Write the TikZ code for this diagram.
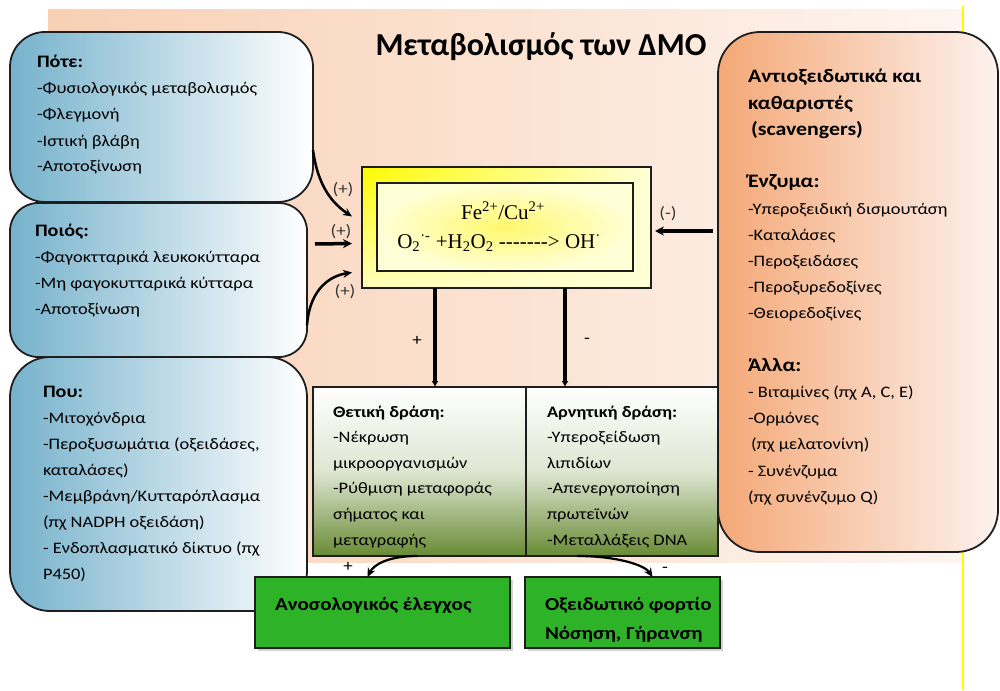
\documentclass[tikz,border=0pt]{standalone}
\usepackage{fontspec}
\setmainfont[FakeStretch=1.15]{Carlito}
\newfontfamily\titlefont{Carlito}
\newfontfamily\chemfont{Liberation Serif}
\usetikzlibrary{arrows.meta,shadows,shadings}
\newcommand\blk[2]{\parbox[t]{#1}{\raggedright #2}}
\newcommand\hdr[1]{{\fontsize{19}{26.2}\selectfont\bfseries #1}}
\newcommand\lhdr[1]{{\fontsize{17.5}{26}\selectfont\bfseries #1}}
\definecolor{peach}{RGB}{248,208,180}
\definecolor{peachlt}{RGB}{254,245,240}
\definecolor{bluel}{RGB}{118,178,204}
\definecolor{orangel}{RGB}{244,168,118}
\definecolor{orangeR}{RGB}{253,242,238}
\definecolor{olive}{RGB}{104,138,52}
\definecolor{oliveM}{RGB}{222,230,210}
\definecolor{grn}{RGB}{46,178,40}
\definecolor{edge}{RGB}{30,30,30}
\definecolor{lbl}{RGB}{55,55,55}
\definecolor{ylw}{RGB}{255,250,0}
\definecolor{ylwlt}{RGB}{255,255,215}
\definecolor{ylwll}{RGB}{255,255,190}
\definecolor{ylwc}{RGB}{255,248,110}
\begin{document}
\begin{tikzpicture}[x=1pt,y=-1pt,
  every node/.style={inner sep=0pt, outer sep=0pt},
  bluebox/.style={draw=edge, line width=1.8pt, left color=bluel, right color=white},
  orbox/.style={draw=edge, line width=1.8pt, left color=orangel, right color=orangeR},
  actbox/.style={draw=edge, line width=1.5pt, top color=white, bottom color=olive, middle color=oliveM},
  grnbox/.style={draw=edge, line width=1.5pt, fill=grn, drop shadow={opacity=0.35, shadow xshift=3pt, shadow yshift=-3pt}},
  body/.style={font=\fontsize{16}{26}\selectfont, anchor=base west},
  actbody/.style={font=\fontsize{16}{25.6}\selectfont, anchor=base west},
  gtxt/.style={font=\fontsize{18.3}{29}\selectfont\bfseries, anchor=base west},
  sign/.style={font=\fontsize{16.5}{18}\selectfont, text=lbl},
  arr/.style={line width=2.5pt, draw=black, -{Stealth[length=9pt,width=8pt]}},
  harr/.style={line width=3.5pt, draw=black, -{Stealth[length=9pt,width=9pt]}},
  darr/.style={line width=3.5pt, draw=black, -{Latex[length=6pt,width=7pt]}}
]
\useasboundingbox (0,0) rectangle (1000,690);
\fill[white] (0,0) rectangle (1000,690);
% background
\shade[left color=peach, right color=peachlt] (48,10) rectangle (963,562);
\draw[ylw, line width=2pt] (963,6) -- (963,690);

% left boxes
\node[bluebox, rounded corners=35pt, minimum width=303pt, minimum height=170pt] (when) at (161.5,117) {};
\node[bluebox, rounded corners=28pt, minimum width=297pt, minimum height=154pt] (who) at (158.5,280) {};
\node[bluebox, rounded corners=40pt, minimum width=297pt, minimum height=254pt] (where) at (158.5,484) {};

% right box
\node[orbox, rounded corners=42pt, minimum width=280pt, minimum height=520pt] (anti) at (858,292) {};

% central reaction box
\node[draw=edge, line width=1.8pt, upper left=ylw, upper right=ylwlt, lower left=ylwll, lower right=ylwlt, minimum width=289pt, minimum height=121pt] (outer) at (506.5,227.5) {};
\node[draw=edge, line width=1.8pt, inner color=ylwc, outer color=ylwlt, minimum width=256pt, minimum height=88pt] (inner) at (505,227) {};

% action boxes
\node[actbox, minimum width=213pt, minimum height=169pt] (pos) at (419.5,471.5) {};
\node[actbox, minimum width=192pt, minimum height=169pt] (neg) at (622,471.5) {};

% outcome boxes
\node[grnbox, minimum width=255pt, minimum height=71pt] (immune) at (382.5,612.5) {};
\node[grnbox, minimum width=195pt, minimum height=71pt] (oxid) at (622.5,612.5) {};

% title
\node[font=\titlefont\fontsize{32}{38}\selectfont\bfseries, anchor=base] (title) at (541,56) {Μεταβολισμός των ΔΜΟ};

% texts
\node[body] (whent) at (37,68) {\blk{272pt}{\lhdr{Πότε:}\\-Φυσιολογικός μεταβολισμός\\-Φλεγμονή\\-Ιστική βλάβη\\-Αποτοξίνωση}};
\node[body] (whot) at (35,236) {\blk{268pt}{\lhdr{Ποιός:}\\-Φαγοκτταρικά λευκοκύτταρα\\-Μη φαγοκυτταρικά κύτταρα\\-Αποτοξίνωση}};
\node[body] (wheret) at (43,397) {\blk{262pt}{\lhdr{Που:}\\-Μιτοχόνδρια\\-Περοξυσωμάτια (οξειδάσες,\\καταλάσες)\\-Μεμβράνη/Κυτταρόπλασμα\\(πχ NADPH οξειδάση)\\- Ενδοπλασματικό δίκτυο (πχ\\P450)}};
\node[body, font=\fontsize{16}{26.2}\selectfont] (antit) at (748,83) {\blk{245pt}{\hdr{Αντιοξειδωτικά και}\\\hdr{καθαριστές}\\\hspace*{3pt}\hdr{(scavengers)}\\[26.2pt]\hdr{Ένζυμα:}\\-Υπεροξειδική δισμουτάση\\-Καταλάσες\\-Περοξειδάσες\\-Περοξυρεδοξίνες\\-Θειορεδοξίνες\\[26.2pt]\hdr{Άλλα:}\\- Βιταμίνες (πχ A, C, E)\\-Ορμόνες\\\hspace*{3pt}(πχ μελατονίνη)\\- Συνένζυμα\\(πχ συνένζυμο Q)}};

\node[actbody] (post) at (333,417) {\blk{190pt}{\textbf{Θετική δράση:}\\-Νέκρωση\\μικροοργανισμών\\-Ρύθμιση μεταφοράς\\σήματος και\\μεταγραφής}};
\node[actbody] (negt) at (547,417) {\blk{170pt}{\textbf{Αρνητική δράση:}\\-Υπεροξείδωση\\λιπιδίων\\-Απενεργοποίηση\\πρωτεϊνών\\-Μεταλλάξεις DNA}};

\node[gtxt] (immt) at (275,610) {Ανοσολογικός έλεγχος};
\node[gtxt] (oxt) at (545,610) {\blk{178pt}{Οξειδωτικό φορτίο\\Νόσηση, Γήρανση}};

\node[font=\chemfont\fontsize{21}{24}\selectfont, anchor=base] (fe) at (503,219) {Fe\textsuperscript{2+}/Cu\textsuperscript{2+}};
\node[font=\chemfont\fontsize{21}{24}\selectfont, anchor=base] (rx) at (499,248) {O\textsubscript{2}\textsuperscript{·-} +H\textsubscript{2}O\textsubscript{2} -{}-{}-{}-{}-{}-{}->{} OH\textsuperscript{·}};

% connectors into reaction box
\draw[arr] ([yshift=-33pt]when.east) .. controls +(5,38) and +(-18,-12) .. ([xshift=-10pt,yshift=11pt]outer.west);
\draw[harr] ([xshift=8pt,yshift=36pt]who.east) -- ([xshift=-10pt,yshift=-16pt]outer.west);
\draw[arr] ([yshift=-45pt]who.east) .. controls +(3,-38) and +(-20,3) .. ([xshift=-10pt,yshift=-45pt]outer.west);
\draw[harr] ([xshift=-5pt,yshift=61pt]anti.west) -- ([xshift=4pt,yshift=-3.5pt]outer.east);

\node[sign] (s1) at (343,190) {(+)};
\node[sign] (s2) at (341,232) {(+)};
\node[sign] (s3) at (345,292) {(+)};
\node[sign] (s4) at (668,214) {(-)};

% down arrows
\coordinate (c1) at (435,300);
\coordinate (c2) at (565,300);
\draw[darr] (outer.south -| c1) -- (pos.north -| c1);
\draw[darr] (outer.south -| c2) -- (neg.north -| c2);
\node[sign, text=black] (s5) at (417,341) {+};
\node[sign, text=black] (s6) at (587,341) {-};

% arrows to outcomes
\draw[arr, line width=2.2pt] ([xshift=-2pt]pos.south) .. controls +(-30,0) and +(6,-12) .. ([xshift=-15pt]immune.north);
\draw[arr, line width=2.2pt] ([xshift=-45pt]neg.south) .. controls +(40,0) and +(-8,-12) .. ([xshift=30pt]oxid.north);
\node[sign, text=black] (s7) at (348,567) {+};
\node[sign, text=black] (s8) at (665,570) {-};
\end{tikzpicture}
\end{document}
